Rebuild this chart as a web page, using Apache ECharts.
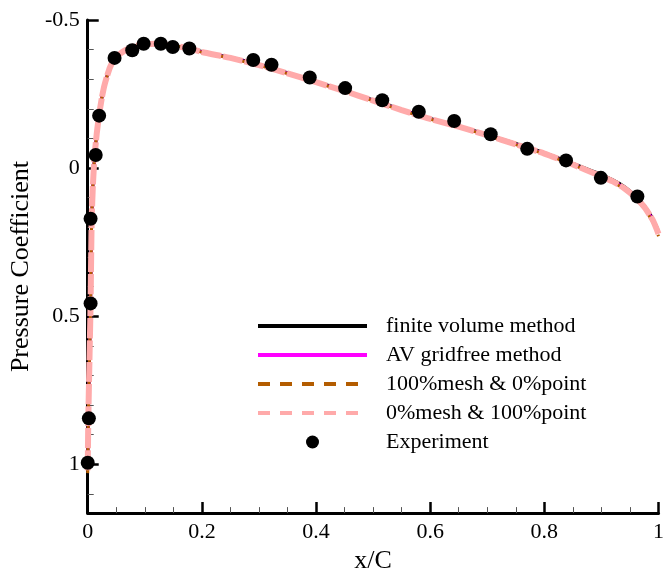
<!DOCTYPE html>
<html>
<head>
<meta charset="utf-8">
<script src="https://cdn.jsdelivr.net/npm/echarts@6/dist/echarts.min.js"></script>
<style>
  html, body { margin: 0; padding: 0; background: #fff; }
  #main { width: 667px; height: 579px; }
</style>
</head>
<body>
<div id="main"></div>
<script>
// x/C stations shared by the computed curves
var xc = [0.000, 0.001, 0.003, 0.005, 0.006, 0.007, 0.009, 0.012, 0.016, 0.020,
          0.025, 0.030, 0.039, 0.047, 0.056, 0.065, 0.082, 0.100, 0.120, 0.140,
          0.175, 0.200, 0.250, 0.300, 0.350, 0.400, 0.450, 0.500, 0.550, 0.600,
          0.650, 0.700, 0.750, 0.800, 0.850, 0.890, 0.920, 0.940, 0.960, 0.975,
          0.990, 1.000];

var cpFiniteVolume = [1.02, 0.85, 0.65, 0.46, 0.30, 0.17, 0.06, -0.04, -0.12, -0.18,
          -0.24, -0.285, -0.34, -0.368, -0.385, -0.397, -0.412, -0.418, -0.42, -0.416,
          -0.405, -0.394, -0.374, -0.350, -0.322, -0.292, -0.262, -0.230, -0.198, -0.168,
          -0.142, -0.113, -0.083, -0.052, -0.016, 0.014, 0.040, 0.062, 0.094, 0.126,
          0.170, 0.212];

var cpGridfree = [1.02, 0.85, 0.65, 0.46, 0.30, 0.17, 0.06, -0.04, -0.12, -0.18,
          -0.24, -0.285, -0.34, -0.368, -0.385, -0.397, -0.412, -0.418, -0.42, -0.416,
          -0.405, -0.392, -0.372, -0.348, -0.320, -0.290, -0.260, -0.228, -0.196, -0.166,
          -0.140, -0.111, -0.080, -0.049, -0.012, 0.020, 0.045, 0.068, 0.100, 0.130,
          0.175, 0.220];

var cpMesh100 = [1.03, 0.85, 0.65, 0.46, 0.30, 0.17, 0.06, -0.04, -0.12, -0.18,
          -0.24, -0.285, -0.34, -0.368, -0.385, -0.397, -0.412, -0.418, -0.42, -0.416,
          -0.405, -0.391, -0.371, -0.347, -0.319, -0.289, -0.259, -0.227, -0.195, -0.165,
          -0.139, -0.110, -0.079, -0.048, -0.011, 0.021, 0.047, 0.071, 0.104, 0.136,
          0.182, 0.230];

var cpPoint100 = [1.02, 0.85, 0.65, 0.46, 0.30, 0.17, 0.06, -0.04, -0.12, -0.18,
          -0.24, -0.285, -0.34, -0.368, -0.385, -0.397, -0.412, -0.418, -0.42, -0.416,
          -0.405, -0.392, -0.372, -0.348, -0.320, -0.290, -0.260, -0.228, -0.196, -0.166,
          -0.140, -0.111, -0.080, -0.049, -0.012, 0.020, 0.045, 0.068, 0.100, 0.131,
          0.176, 0.222];

// experiment
var expX = [0.000, 0.002, 0.005, 0.005, 0.014, 0.020, 0.047, 0.078, 0.098, 0.128,
            0.149, 0.178, 0.290, 0.322, 0.389, 0.451, 0.516, 0.580, 0.642, 0.706,
            0.770, 0.838, 0.899, 0.963];
var expCp = [0.995, 0.845, 0.457, 0.171, -0.044, -0.177, -0.372, -0.398, -0.420, -0.420,
             -0.409, -0.404, -0.365, -0.349, -0.306, -0.270, -0.229, -0.190, -0.159, -0.114,
             -0.065, -0.026, 0.033, 0.096];

var names = ['finite volume method', 'AV gridfree method', '100%mesh & 0%point',
             '0%mesh & 100%point', 'Experiment'];
var yTicks = [-0.5, 0, 0.5, 1];

function pairs(xs, ys) {
  return xs.map(function (x, i) { return [x, ys[i]]; });
}

var font = 'Liberation Serif, Times New Roman, serif';

var chart = echarts.init(document.getElementById('main'));

var axisCommon = {
  axisLine: { show: true, onZero: false, lineStyle: { color: '#000', width: 3 } },
  axisTick: { show: true, inside: true, length: 11, lineStyle: { color: '#000', width: 2.5 } },
  splitLine: { show: false },
  minorSplitLine: { show: false }
};

var noSymbol = { opacity: 0 };

var option = {
  animation: false,
  grid: { left: 86, right: 5, top: 20, bottom: 53 },
  legend: {
    orient: 'vertical',
    left: 251,
    top: 310,
    itemWidth: 109,
    itemHeight: 13,
    itemGap: 7,
    textStyle: { fontFamily: font, fontSize: 22, color: '#000', padding: [0, 0, 0, 14] },
    data: [
      { name: names[0], itemStyle: noSymbol, lineStyle: { width: 4, type: 'solid' } },
      { name: names[1], itemStyle: noSymbol, lineStyle: { width: 4, type: 'solid' } },
      { name: names[2], itemStyle: noSymbol, lineStyle: { width: 4, type: [12, 10] } },
      { name: names[3], itemStyle: noSymbol, lineStyle: { width: 4, type: [12, 10] } },
      { name: names[4], icon: 'circle', itemStyle: { color: '#000', opacity: 1 } }
    ]
  },
  xAxis: Object.assign({
    type: 'value',
    min: 0, max: 1, interval: 0.2,
    name: 'x/C',
    nameLocation: 'middle',
    nameGap: 24,
    nameTextStyle: { fontFamily: font, fontSize: 26, color: '#000', verticalAlign: 'top' },
    axisLabel: { fontFamily: font, fontSize: 22, color: '#000', margin: 8 },
    minorTick: { show: true, splitNumber: 4, length: 6, lineStyle: { color: '#555', width: 1 } }
  }, axisCommon),
  yAxis: Object.assign({
    type: 'value',
    inverse: true,
    min: -0.5, max: 1.165, interval: 0.5,
    name: 'Pressure Coefficient',
    nameLocation: 'middle',
    nameGap: 52,
    nameTextStyle: { fontFamily: font, fontSize: 26, color: '#000' },
    axisLabel: {
      fontFamily: font, fontSize: 22, color: '#000', margin: 8, showMaxLabel: false,
      formatter: function (v) { return yTicks.indexOf(v) >= 0 ? String(v) : ''; }
    },
    minorTick: { show: true, splitNumber: 5, length: 6, lineStyle: { color: '#555', width: 1 } }
  }, axisCommon),
  series: [
    {
      name: names[0], type: 'line', data: pairs(xc, cpFiniteVolume),
      showSymbol: false, symbol: 'none', smooth: 0.2, z: 2,
      lineStyle: { color: '#000', width: 3 }, itemStyle: { color: '#000' }
    },
    {
      name: names[1], type: 'line', data: pairs(xc, cpGridfree),
      showSymbol: false, symbol: 'none', smooth: 0.2, z: 3,
      lineStyle: { color: '#ff00ff', width: 3 }, itemStyle: { color: '#ff00ff' }
    },
    {
      name: names[2], type: 'line', data: pairs(xc, cpMesh100),
      showSymbol: false, symbol: 'none', smooth: 0.2, z: 4,
      lineStyle: { color: '#b35c00', width: 3, type: [12, 10] }, itemStyle: { color: '#b35c00' }
    },
    {
      name: names[3], type: 'line', data: pairs(xc, cpPoint100),
      showSymbol: false, symbol: 'none', smooth: 0.2, z: 5,
      lineStyle: { color: '#ffaaaa', width: 6, type: [20, 2] }, itemStyle: { color: '#ffaaaa' }
    },
    {
      name: names[4], type: 'scatter', data: pairs(expX, expCp),
      symbol: 'circle', symbolSize: 14, z: 6,
      itemStyle: { color: '#000', opacity: 1 }
    }
  ]
};

chart.setOption(option);
</script>
</body>
</html>
